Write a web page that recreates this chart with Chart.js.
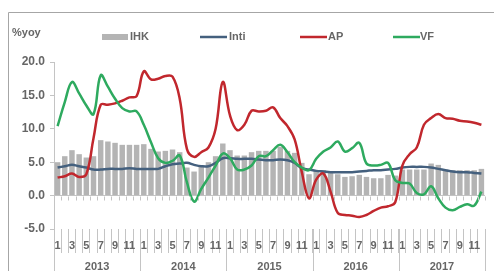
<!DOCTYPE html>
<html>
<head>
<meta charset="utf-8">
<script src="https://cdn.jsdelivr.net/npm/chart.js@4"></script>
<style>
  html, body { margin: 0; padding: 0; background: #fff; }
  #wrap { width: 494px; height: 271px; }
</style>
</head>
<body>
<div id="wrap"><canvas id="chart"></canvas></div>
<script>
const years = ["2013", "2014", "2015", "2016", "2017"];
const months = ["1", "2", "3", "4", "5", "6", "7", "8", "9", "10", "11", "12"];
const yTicks = [-5, 0, 5, 10, 15, 20];

const ihk = [
  5.0, 5.9, 6.8, 6.2, 5.7, 5.9, 8.3, 8.1, 7.9, 7.6, 7.6, 7.6,
  7.7, 7.0, 6.6, 6.7, 6.9, 6.5, 4.2, 3.6, 4.4, 5.0, 5.9, 7.8,
  6.8, 6.0, 6.0, 6.5, 6.7, 6.7, 6.7, 7.3, 6.7, 6.4, 4.9, 3.2,
  3.7, 3.8, 3.4, 3.2, 2.8, 2.9, 3.1, 2.8, 2.6, 2.6, 3.1, 3.0,
  3.9, 3.9, 3.9, 3.9, 4.8, 4.6, 3.9, 3.8, 3.8, 3.8, 3.8, 4.0
];
const inti = [
  4.2, 4.4, 4.6, 4.4, 4.2, 3.9, 3.9, 4.0, 4.0, 4.0, 4.1, 4.0,
  4.0, 4.0, 4.0, 4.4, 4.7, 4.8, 4.9, 4.6, 4.4, 4.4, 4.9, 5.6,
  5.6, 5.5, 5.5, 5.5, 5.4, 5.3, 5.3, 5.4, 5.3, 4.9, 4.1, 3.9,
  3.7, 3.6, 3.5, 3.5, 3.5, 3.5, 3.6, 3.7, 3.8, 3.8, 3.9, 4.0,
  4.2, 4.3, 4.3, 4.3, 4.2, 4.0, 3.8, 3.6, 3.5, 3.5, 3.4, 3.3
];
const ap = [
  2.7, 2.9, 3.3, 2.8, 3.2, 8.6, 13.6, 13.6, 13.8, 14.2, 14.7, 14.9,
  18.6, 17.4, 17.5, 17.9, 17.8, 14.5, 7.0, 5.8, 6.5, 7.2, 10.0, 17.0,
  12.0, 9.8, 10.6, 12.7, 12.6, 12.7, 13.2, 11.6, 10.4, 8.4, 3.5, -0.4,
  2.4, 3.3, 0.6, -2.6, -2.9, -3.0, -3.2, -2.9, -2.3, -1.8, -1.6, -1.0,
  4.5, 6.2, 7.2, 10.6, 11.6, 12.2, 11.6, 11.5, 11.2, 11.1, 10.9, 10.6
];
const vf = [
  10.4, 14.0, 17.0, 15.3, 13.5, 12.2, 18.0, 16.3, 14.5, 13.1, 12.6, 12.6,
  10.6, 8.0, 5.6, 4.9, 5.2, 6.0, 2.0, -0.9, 1.0, 2.7, 4.5, 6.3,
  5.6, 3.9, 3.9, 4.5, 5.9, 5.9, 6.8, 7.6, 6.5, 5.0, 4.2, 3.8,
  5.5, 6.6, 7.2, 8.1, 6.6, 7.1, 7.9, 4.8, 4.5, 4.6, 4.9, 2.3,
  1.9, 1.8, 0.4, 0.2, 1.4, -0.4, -1.8, -2.2, -1.7, -1.3, -1.5, 0.6
];

const categories = years.flatMap(y => months.map(m => y + "-" + m));

const textColor = "#666666";
const axisColor = "#c4c4c4";
const colors = { ihk: "#b4b4b4", inti: "#44607e", ap: "#c1272d", vf: "#2eaa5f" };

// frame, legend, year row and small ticks, drawn around the chart
const decor = {
  id: "decor",
  beforeDraw(chart) {
    const ctx = chart.ctx;
    ctx.save();
    ctx.strokeStyle = "#a6a6a6";
    ctx.lineWidth = 1;
    ctx.beginPath();
    ctx.moveTo(8.5, 271);
    ctx.lineTo(8.5, 12.5);
    ctx.lineTo(494, 12.5);
    ctx.stroke();
    ctx.restore();
  },
  afterDraw(chart) {
    const ctx = chart.ctx;
    const xs = chart.scales.x;
    const ys = chart.scales.y;
    const area = chart.chartArea;
    const step = (area.right - area.left) / categories.length;
    const y0 = Math.round(ys.getPixelForValue(0)) + 0.5;

    ctx.save();
    ctx.strokeStyle = axisColor;
    ctx.lineWidth = 1;

    // little ticks under the zero line
    ctx.beginPath();
    for (let i = 0; i <= categories.length; i++) {
      const px = Math.round(area.left + i * step) + 0.5;
      ctx.moveTo(px, y0);
      ctx.lineTo(px, y0 + 4);
    }
    ctx.stroke();

    // y axis line runs down through the label rows
    ctx.beginPath();
    ctx.moveTo(Math.round(area.left) + 0.5, area.bottom);
    ctx.lineTo(Math.round(area.left) + 0.5, chart.height);
    // year separators
    for (let k = 1; k <= years.length; k++) {
      const px = Math.round(area.left + k * 12 * step) + 0.5;
      ctx.moveTo(px, area.bottom);
      ctx.lineTo(px, chart.height);
    }
    ctx.stroke();

    // year labels
    ctx.fillStyle = textColor;
    ctx.font = "bold 11px 'Liberation Sans'";
    ctx.textAlign = "center";
    ctx.textBaseline = "middle";
    years.forEach((yr, k) => {
      const a = xs.getPixelForValue(k * 12);
      const b = xs.getPixelForValue(k * 12 + 11);
      ctx.fillText(yr, (a + b) / 2, 267);
    });

    // unit label
    ctx.textAlign = "left";
    ctx.fillText("%yoy", 12, 33);

    // legend
    const ly = 37;
    ctx.fillStyle = colors.ihk;
    ctx.fillRect(102, ly - 3, 26, 6);
    ctx.lineWidth = 2.5;
    [["inti", 200], ["ap", 300], ["vf", 393]].forEach(([key, lx]) => {
      ctx.strokeStyle = colors[key];
      ctx.beginPath();
      ctx.moveTo(lx, ly);
      ctx.lineTo(lx + 27, ly);
      ctx.stroke();
    });
    ctx.fillStyle = textColor;
    ctx.fillText("IHK", 130, ly);
    ctx.fillText("Inti", 229, ly);
    ctx.fillText("AP", 328, ly);
    ctx.fillText("VF", 420, ly);
    ctx.restore();
  }
};

const lineSet = (label, data, color, order) => ({
  type: "line",
  label: label,
  data: data,
  borderColor: color,
  backgroundColor: color,
  borderWidth: 2.5,
  pointRadius: 0,
  tension: 0.4,
  order: order,
});

new Chart(document.getElementById("chart"), {
  type: "bar",
  data: {
    labels: categories,
    datasets: [
      {
        label: "IHK",
        data: ihk,
        backgroundColor: colors.ihk,
        barPercentage: 0.76,
        categoryPercentage: 1,
        order: 4,
      },
      lineSet("Inti", inti, colors.inti, 3),
      lineSet("AP", ap, colors.ap, 2),
      lineSet("VF", vf, colors.vf, 1),
    ],
  },
  options: {
    responsive: true,
    maintainAspectRatio: false,
    animation: false,
    layout: { padding: { left: 0, top: 62, right: 9, bottom: 0 } },
    plugins: {
      legend: { display: false },
      tooltip: { enabled: false },
    },
    scales: {
      x: {
        offset: true,
        border: { display: false },
        grid: {
          offset: true,
          drawOnChartArea: false,
          tickLength: 24,
          color: axisColor,
        },
        ticks: {
          autoSkip: false,
          maxRotation: 0,
          padding: -14,
          color: textColor,
          font: { size: 11, family: "Liberation Sans", weight: "bold" },
          callback: (value, index) => (index % 2 === 0 ? months[index % 12] : ""),
        },
        afterFit: (scale) => { scale.height = 42; },
      },
      y: {
        min: yTicks[0],
        max: yTicks[yTicks.length - 1],
        afterBuildTicks: (scale) => { scale.ticks = yTicks.map(v => ({ value: v })); },
        border: { display: true, color: axisColor },
        grid: {
          color: (c) => (c.tick && c.tick.value === 0 ? axisColor : "rgba(0,0,0,0)"),
          tickColor: axisColor,
          tickLength: 4,
        },
        ticks: {
          padding: 5,
          color: textColor,
          font: { size: 12, family: "Liberation Sans", weight: "bold" },
          callback: (v) => Number(v).toFixed(1),
        },
        afterFit: (scale) => { scale.width = 54; },
      },
    },
  },
  plugins: [decor],
});
</script>
</body>
</html>
